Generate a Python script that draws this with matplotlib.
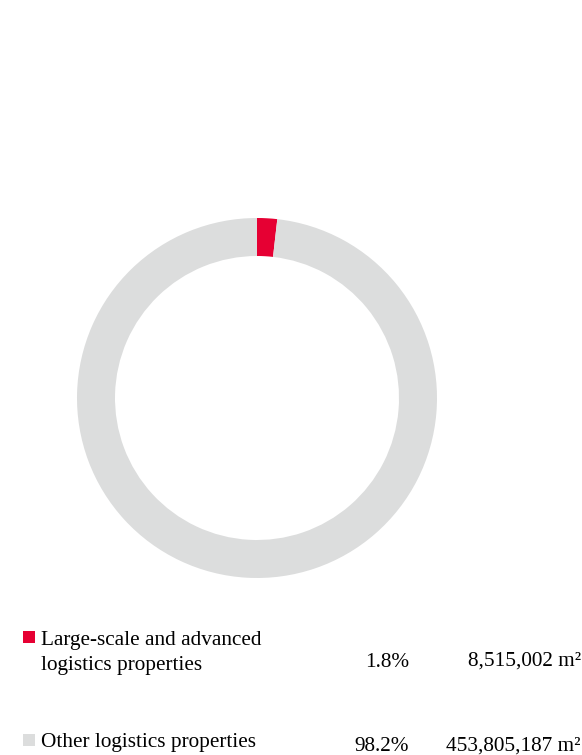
import matplotlib.pyplot as plt
from matplotlib.patches import Rectangle

labels = [["Large-scale and advanced", "logistics properties"], ["Other logistics properties"]]
shares = [1.8, 98.2]
areas = ["8,515,002 m\u00b2", "453,805,187 m\u00b2"]
colors = ["#E60033", "#DCDDDD"]

W, H = 582, 755
plt.rcParams["font.family"] = ["Liberation Serif", "DejaVu Serif"]
FS = 15.3

fig = plt.figure(figsize=(W / 100, H / 100), dpi=100)


def fx(px):
    return px / W


def fy(py):
    return 1 - py / H


# donut ring
cx, cy, r = 257, 398, 180
ax = fig.add_axes([fx(cx - r), fy(cy + r), 2 * r / W, 2 * r / H])
ax.pie(shares, colors=colors, startangle=90, counterclock=False,
       wedgeprops=dict(width=38 / r, linewidth=0))
ax.set_xlim(-1, 1)
ax.set_ylim(-1, 1)
ax.set_aspect("equal")
ax.axis("off")

# legend rows: (label baseline, square top, value baseline)
label_base = [645, 747]
square_top = [631, 734]
value_base = [667, 751]
for lines, sh, ar, col, lb, st, vb in zip(labels, shares, areas, colors,
                                          label_base, square_top, value_base):
    fig.patches.append(Rectangle((fx(23), fy(st + 12)), 12 / W, 12 / H,
                                 transform=fig.transFigure, color=col, linewidth=0))
    for i, line in enumerate(lines):
        fig.text(fx(41), fy(lb + 25 * i), line, ha="left", va="baseline", fontsize=FS)
    fig.text(fx(409), fy(vb), f"{sh}%", ha="right", va="baseline", fontsize=FS)
    fig.text(fx(581), fy(vb - 1 if len(lines) > 1 else vb), ar, ha="right",
             va="baseline", fontsize=FS)

fig.savefig("out.png", dpi=100)
